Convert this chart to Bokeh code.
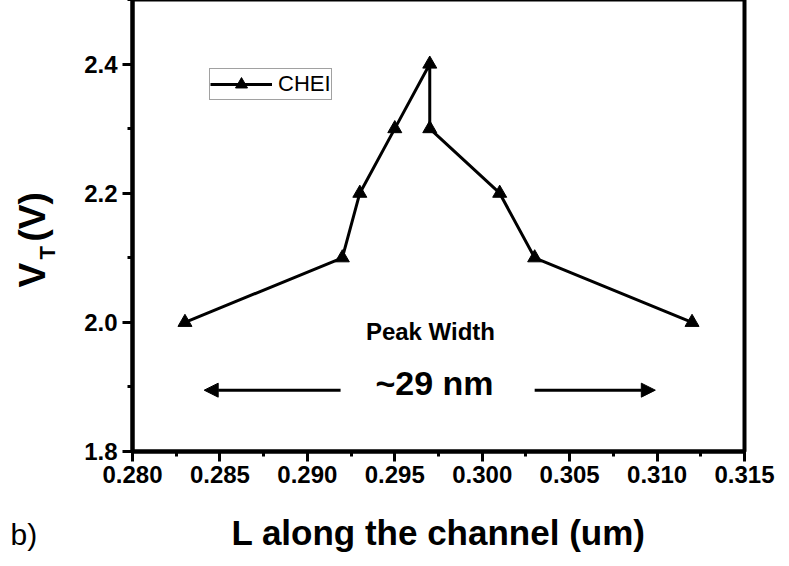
from bokeh.plotting import figure
from bokeh.layouts import row
from bokeh.models import (Range1d, FixedTicker, Label, Arrow, NormalHead,
                          Legend, LegendItem, Title)
from bokeh.embed import file_html
from bokeh.resources import INLINE

# ---- data ----
L_um = [0.283, 0.292, 0.293, 0.295, 0.297, 0.297, 0.301, 0.303, 0.312]
VT = [2.0, 2.1, 2.2, 2.3, 2.4, 2.3, 2.2, 2.1, 2.0]
series_name = "CHEI"

x_ticks = [0.280, 0.285, 0.290, 0.295, 0.300, 0.305, 0.310, 0.315]
x_tick_labels = ["0.280", "0.285", "0.290", "0.295", "0.300", "0.305", "0.310", "0.315"]
x_minor = [0.2825, 0.2875, 0.2925, 0.2975, 0.3025, 0.3075, 0.3125]
y_ticks = [1.8, 2.0, 2.2, 2.4]
y_tick_labels = ["1.8", "2.0", "2.2", "2.4"]
y_minor = [1.9, 2.1, 2.3, 2.5]

# annotation: peak width arrows
left_arrow = (0.2919, 0.2841)
right_arrow = (0.3030, 0.3099)
arrow_y = 1.895

FONT = "Liberation Sans"
W, H = 789, 566          # whole window; the body margin is cancelled below
LEFT_W = 78

# ---- narrow left strip holding the rotated y-axis title and the panel tag ----
# its frame is aligned with the main frame (page y 7..459); y measured as H - page_y
side = figure(width=LEFT_W, height=H, output_backend="svg", toolbar_location=None,
              x_range=Range1d(0, LEFT_W), y_range=Range1d(H - 459, H - 7),
              min_border_left=0, min_border_right=0, min_border_top=0,
              min_border_bottom=0)
side.yaxis.visible = False
side.grid.visible = False
side.outline_line_color = None
side.background_fill_color = "white"
side.border_fill_color = "white"
sx = side.xaxis[0]
sx.ticker = FixedTicker(ticks=[])
sx.axis_line_color = None
sx.major_tick_line_color = None
sx.minor_tick_line_color = None
sx.major_tick_out = 0
sx.minor_tick_out = 0
sx.major_label_standoff = 0
sx.axis_label = "\u00a0"          # blank spacer so the tag sits low
sx.axis_label_text_font = FONT
sx.axis_label_text_font_size = "30px"
sx.axis_label_standoff = 30
side.add_layout(Title(text="b)", align="left", vertical_align="top", standoff=0,
                      offset=18, text_font=FONT, text_font_size="30px",
                      text_font_style="normal", text_color="black"), "below")

ylab_kw = dict(angle=1.5708, text_font=FONT, text_font_style="bold",
               text_color="black", text_align="left", text_baseline="alphabetic")
side.add_layout(Label(x=40, y=H - 295, text="V", text_font_size="37px", **ylab_kw))
side.add_layout(Label(x=55, y=H - 267, text="T", text_font_size="22px", **ylab_kw))
side.add_layout(Label(x=40, y=H - 249, text="(V)", text_font_size="37px", **ylab_kw))

# ---- main plot ----
p = figure(width=W - LEFT_W, height=H, output_backend="svg", toolbar_location=None,
           x_range=Range1d(0.280, 0.315), y_range=Range1d(1.8, 2.5),
           min_border_left=140 - LEFT_W, min_border_right=W - 752, min_border_top=7,
           min_border_bottom=H - 459)
p.xgrid.visible = False
p.ygrid.visible = False
p.background_fill_color = "white"
p.border_fill_color = "white"
p.outline_line_color = "black"
p.outline_line_width = 4

for ax, ticks, minor, labels in ((p.xaxis[0], x_ticks, x_minor, x_tick_labels),
                                  (p.yaxis[0], y_ticks, y_minor, y_tick_labels)):
    ax.ticker = FixedTicker(ticks=ticks, minor_ticks=minor)
    ax.major_label_overrides = {t: l for t, l in zip(ticks, labels)}
    ax.axis_line_width = 4
    ax.major_tick_line_width = 3
    ax.minor_tick_line_width = 3
    ax.major_tick_out = 10
    ax.major_tick_in = 0
    ax.minor_tick_out = 5
    ax.minor_tick_in = 0
    ax.major_label_text_font = FONT
    ax.major_label_text_font_style = "bold"
    ax.major_label_text_font_size = "24px"
    ax.major_label_text_color = "black"

p.xaxis.major_label_standoff = 4
p.yaxis.major_label_standoff = 5
p.xaxis.axis_label = "L along the channel (um)"
p.xaxis.axis_label_text_font = FONT
p.xaxis.axis_label_text_font_style = "bold"
p.xaxis.axis_label_text_font_size = "35px"
p.xaxis.axis_label_standoff = 27
p.xaxis.axis_label_text_color = "black"

r_line = p.line(L_um, VT, line_width=3, color="black")
r_pts = p.scatter(L_um, VT, marker="triangle", size=14, color="black")

legend = Legend(items=[LegendItem(label=series_name, renderers=[r_line, r_pts])],
                location=(77, 351), padding=0, margin=0, spacing=0,
                glyph_width=62, glyph_height=30, label_standoff=6,
                label_text_font=FONT, label_text_font_size="22px",
                label_text_color="black",
                border_line_color="#444444", border_line_width=1,
                background_fill_color="white", background_fill_alpha=1)
p.add_layout(legend)

# peak-width annotation
p.add_layout(Label(x=0.29704, y=1.965, text="Peak Width", text_font=FONT,
                   text_font_style="bold", text_font_size="24px", text_align="center",
                   text_color="black"))
p.add_layout(Label(x=0.29727, y=1.876, text="~29 nm", text_font=FONT,
                   text_font_style="bold", text_font_size="34px", text_align="center",
                   text_color="black"))
for xs, xe in (left_arrow, right_arrow):
    p.add_layout(Arrow(end=NormalHead(size=14, fill_color="black", line_color="black"),
                       x_start=xs, y_start=arrow_y, x_end=xe, y_end=arrow_y,
                       line_width=3, line_color="black"))

layout = row(side, p, spacing=0)
# cancel the page's 8px body margin so the figure can use the whole window
layout.styles = {"margin": "-8px"}
open("out.html", "w").write(file_html(layout, INLINE))
